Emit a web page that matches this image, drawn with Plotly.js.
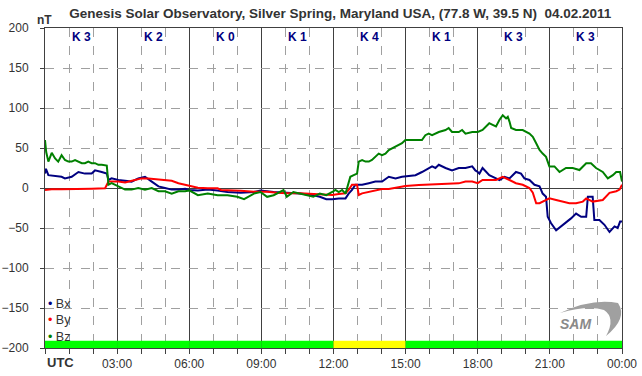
<!DOCTYPE html>
<html>
<head>
<meta charset="utf-8">
<script src="https://cdn.plot.ly/plotly-3.0.1.min.js"></script>
<style>html,body{margin:0;padding:0;background:#fff;}#chart{width:642px;height:376px;}</style>
</head>
<body>
<div id="chart"></div>
<script>
// ---- data (hours UTC, nT) ----
const bxHours = [0,0.04,0.14,0.42,0.69,0.83,1.11,1.39,1.66,1.94,2.08,2.36,2.57,2.64,2.77,3.05,3.33,3.6,3.88,4.16,4.44,4.72,4.99,5.27,5.55,5.83,6.0,
  6.36,6.77,7.18,7.59,8.14,8.69,8.96,9.51,10.06,10.61,11.16,11.43,11.7,11.95,
  12.22,12.5,12.63,12.77,12.91,13.19,13.47,13.74,14.02,14.3,14.58,14.85,15.13,15.41,15.68,15.96,16.1,16.24,16.38,16.66,16.93,17.21,17.49,17.77,17.9,
  18.0,18.07,18.2,18.35,18.48,18.76,18.9,19.11,19.32,19.59,19.8,19.94,20.15,20.36,20.57,20.7,20.84,20.91,21.05,21.26,21.47,21.67,21.88,22.09,22.3,22.51,22.58,22.78,22.85,23.06,23.27,23.48,23.69,23.82,23.92,24];
const bxValues = [18,24,16,15,14,12,14,20,18,18,22,20,18,10,12,10,9,8,12,14,8,2,0,-2,-2,-1,-2.5,
  -3,-2,-3,-5,-6,-5,-3,-5,-6,-7,-9,-11,-14,-14,
  -13,-13,-7,-2.5,4,4,6,8,8,14,12,14,15,16,20,25,27,25,29,25,22,25,25,27,22,
  20,18,25,20,16,12,10,14,12,20,18,12,10,4,2,-7,-11,-36,-44,-53,-48,-44,-38,-32,-36,-36,-11,-11,-40,-40,-46,-55,-48,-50,-42,-42];

const byHours = [0,0.28,0.69,1.11,1.53,1.94,2.5,2.64,3.05,3.33,3.74,4.02,4.3,4.58,4.99,5.27,5.55,5.83,6.0,
  6.36,6.77,7.18,7.32,7.73,8.14,8.69,9.24,9.65,10.06,10.61,11.16,11.7,11.95,
  12.22,12.5,12.63,12.77,12.98,13.05,13.19,13.47,13.74,14.02,14.3,14.71,14.99,15.55,16.1,16.66,17.21,17.49,17.77,18.0,
  18.2,18.76,19.04,19.32,19.59,19.87,20.15,20.29,20.43,20.57,20.84,20.98,21.26,21.54,21.81,22.09,22.37,22.51,22.78,23.2,23.48,23.76,23.9,24];
const byValues = [-2.5,-1.7,-1.7,-1.7,-1.2,-0.8,-0.4,8,8,7,10,12,12,11,10,9,6,4,2.5,
  0.4,-0.4,-0.4,-2.5,-2.5,-3.3,-4.6,-4.6,-5.8,-6.7,-6.7,-7.5,-7.9,-8.75,
  -7.5,-6.7,-2.5,4,4,-8.75,-6.7,-4.6,-2.5,-1.2,-1.2,0.8,2.5,3.75,4.6,4.6,5.8,8,8,6,
  10,10,14,10,6,4,0,-6,-19,-19,-15,-13,-15,-17,-19,-19,-17,-13,-17,-15,-6,-4,-2,4];

const bzHours = [0,0.05,0.14,0.28,0.42,0.55,0.69,0.83,0.97,1.11,1.25,1.39,1.53,1.66,1.8,1.94,2.08,2.22,2.36,2.57,2.64,2.77,3.05,3.33,3.6,3.88,4.16,4.44,4.72,4.99,5.27,5.55,5.83,6.0,
  6.36,6.77,7.18,7.59,8.0,8.28,8.69,8.96,9.24,9.51,9.92,10.06,10.33,10.6,10.88,11.16,11.43,11.7,11.95,
  12.08,12.22,12.36,12.5,12.63,12.7,12.84,12.98,13.05,13.19,13.33,13.47,13.6,13.74,13.88,14.02,14.16,14.3,14.58,14.71,14.85,14.99,15.41,15.68,15.82,15.96,16.1,16.38,16.66,16.79,16.93,17.21,17.35,17.49,17.77,18.0,
  18.2,18.48,18.62,18.76,18.9,19.04,19.18,19.25,19.32,19.39,19.59,19.87,20.15,20.29,20.43,20.57,20.7,20.84,20.98,21.19,21.4,21.67,21.95,22.23,22.51,22.71,22.92,23.2,23.41,23.62,23.76,23.92,24];
const bzValues = [60,45,33,44,37,33,41,35,33,33,35,33,31,31,33,31,31,29,29,28,4,6,2,-2,-2,0,-2,0,-4,-4,-7,-4,-4,-3,
  -9,-7,-9,-9,-11,-14,-7,-5,-11,-9,-2.5,-11,-5,-7,-9,-11,-7,-9,-5,
  -2.5,-5,-2.5,-7,6,14,16,18,33,35,33,33,35,39,43,41,43,47.5,52,54,56,60,60,60,66,68,66,70,72.5,75,70,70,72.5,68,70,70,
  72.5,81,79,77,85,91,87,89,83,75,72.5,72.5,68,64,56,47.5,43,39,27,27,20,25,25,22.5,31,31,25,20,12,16,20,20,8];

const seriesNames = ['Bx','By','Bz'];
const seriesColors = ['#000080','#ff0000','#008000'];

const kIndex = [3,2,0,1,4,1,3,3];
const tickHours = [3,6,9,12,15,18,21,24];
const tickLabels = ['03:00','06:00','09:00','12:00','15:00','18:00','21:00','00:00'];

const titleText = 'Genesis Solar Observatory, Silver Spring, Maryland USA, (77.8 W, 39.5 N)  04.02.2011';

// ---- layout helpers ----
const W = 642, H = 376, L = 45, R = 20, T = 28, B = 28;
const pw = W - L - R, ph = H - T - B;
const px2x = p => (p - L) / pw;
const px2y = p => (H - B - p) / ph;
const FONT = 'Liberation Sans, Arial, sans-serif';
const TXT = '#333333';
const DARK = '#404040';

const hours = [bxHours, byHours, bzHours];
const vals = [bxValues, byValues, bzValues];
const traces = seriesNames.map((n, i) => ({
  type: 'scatter', mode: 'lines', name: n,
  x: hours[i], y: vals[i],
  line: {color: seriesColors[i], width: 2},
  showlegend: false, hoverinfo: 'x+y+name'
}));

const annotations = [];
kIndex.forEach((k, i) => {
  annotations.push({x: 3*i + 1.5, y: 189, xref: 'x', yref: 'y', text: '<b>K ' + k + '</b>',
    showarrow: false, font: {family: FONT, size: 12, color: '#000080'}});
});
// legend block (one text, three lines)
annotations.push({x: px2x(46), y: px2y(320), xref: 'paper', yref: 'paper',
  xanchor: 'left', yanchor: 'middle', align: 'left', showarrow: false,
  text: seriesNames.map((n, i) => '<span style="color:' + seriesColors[i] + '">•</span> ' + n).join('<br>'),
  font: {family: FONT, size: 12.5, color: TXT}});
annotations.push({x: px2x(35), y: px2y(11), xref: 'paper', yref: 'paper', text: '<b>nT</b>',
  showarrow: false, font: {family: FONT, size: 12, color: TXT}});
annotations.push({x: 0, y: px2y(362), xref: 'paper', yref: 'paper', xanchor: 'left', yanchor: 'middle',
  text: '<b>UTC</b>', showarrow: false, font: {family: FONT, size: 13, color: TXT}});
annotations.push({x: px2x(558), y: px2y(324), xref: 'paper', yref: 'paper', xanchor: 'left', yanchor: 'middle',
  text: '<i><b>SAM</b></i>', showarrow: false, font: {family: FONT, size: 14, color: '#8a8a8a'}});

const shapes = kIndex.map((k, i) => ({
  type: 'rect', xref: 'x', yref: 'y', x0: 3*i, x1: 3*i + 3, y0: -200, y1: -191,
  fillcolor: k >= 4 ? '#ffff00' : '#00ff00', line: {width: 0}, layer: 'above'
}));
// SAM swoosh
const P = (x, y) => px2x(x).toFixed(4) + ',' + px2y(y).toFixed(4);
shapes.push({type: 'path', xref: 'paper', yref: 'paper', layer: 'above',
  path: 'M' + P(560,313) + ' Q' + P(592,298) + ' ' + P(618,303) + ' Q' + P(628,318) + ' ' + P(606,336) +
        ' Q' + P(616,318) + ' ' + P(604,310) + ' Q' + P(588,305) + ' ' + P(560,313) + ' Z',
  fillcolor: '#a0a0a0', line: {width: 0}});

const layout = {
  width: W, height: H,
  margin: {l: L, r: R, t: T, b: B, pad: 0},
  paper_bgcolor: '#ffffff', plot_bgcolor: '#ffffff',
  font: {family: FONT, size: 12, color: TXT},
  title: {text: '<b>' + titleText + '</b>', x: 0.53, xref: 'container', y: 1 - 13/H, yanchor: 'middle',
    font: {family: FONT, size: 13.5, color: TXT}},
  xaxis: {
    range: [0, 24], tickmode: 'array', tickvals: tickHours, ticktext: tickLabels,
    showgrid: true, gridcolor: DARK, gridwidth: 1,
    ticks: 'outside', ticklen: 5, tickcolor: DARK, tickwidth: 1,
    showline: true, linecolor: DARK, linewidth: 1, mirror: true, zeroline: false,
    tickfont: {family: FONT, size: 12, color: TXT},
    minor: {tickmode: 'linear', tick0: 0, dtick: 1, ticks: 'outside', ticklen: 5, tickcolor: DARK,
      showgrid: true, gridcolor: '#a0a0a0', griddash: 'dash', gridwidth: 1},
    fixedrange: true
  },
  yaxis: {
    range: [-200, 200], tickmode: 'linear', tick0: 0, dtick: 50,
    showgrid: true, gridcolor: '#a0a0a0', griddash: 'dash', gridwidth: 1,
    zeroline: true, zerolinecolor: DARK, zerolinewidth: 1,
    ticks: 'outside', ticklen: 4, tickcolor: DARK,
    showline: true, linecolor: DARK, linewidth: 1, mirror: true,
    ticklabelstandoff: 9,
    tickfont: {family: FONT, size: 12, color: TXT},
    fixedrange: true
  },
  annotations: annotations,
  shapes: shapes,
  showlegend: false
};

Plotly.newPlot('chart', traces, layout, {displayModeBar: false, staticPlot: true});
</script>
</body>
</html>
